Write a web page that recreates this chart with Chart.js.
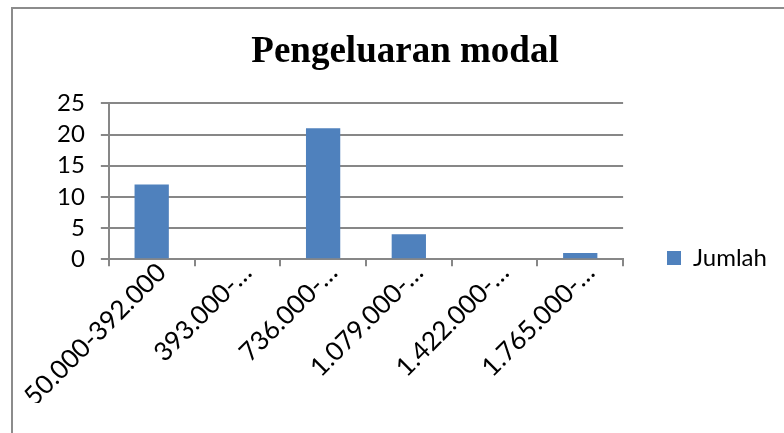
<!DOCTYPE html>
<html>
<head>
<meta charset="utf-8">
<script src="https://cdn.jsdelivr.net/npm/chart.js@4"></script>
<style>
  body { margin: 0; background: #fff; overflow: hidden; }
  #wrap { position: relative; width: 784px; height: 433px; }
  #frame { position: absolute; left: 11px; top: 7px; width: 800px; height: 500px; border: 2px solid #8c8c8c; box-sizing: border-box; pointer-events: none; }
</style>
</head>
<body>
<div id="wrap">
  <canvas id="myChart" width="784" height="433"></canvas>
  <div id="frame"></div>
</div>
<script>
const categories = ["50.000-392.000", "393.000-…", "736.000-…", "1.079.000-…", "1.422.000-…", "1.765.000-…"];
const jumlah = [12, 0, 21, 4, 0, 1];
const yTicks = [0, 5, 10, 15, 20, 25];

const gridColor = "#878787";

// legend sits lower than the plot centre in the original, title a bit to the right
const placeBlocks = {
  id: "placeBlocks",
  afterLayout(chart) {
    const l = chart.legend;
    const w = l.right - l.left;
    l.top = 258 - 17;
    l.bottom = l.top + 34;
    l.left = 657;
    l.right = l.left + w;
    const t = chart.titleBlock;
    t.left += 13;
    t.right += 13;
  }
};

new Chart("myChart", {
  type: "bar",
  data: {
    labels: categories,
    datasets: [{
      label: "Jumlah",
      data: jumlah,
      backgroundColor: "#4F81BD",
      categoryPercentage: 1,
      barPercentage: 0.4
    }]
  },
  plugins: [placeBlocks],
  options: {
    responsive: false,
    animation: false,
    layout: {
      padding: { left: 41, top: 12, right: 41, bottom: 30 }
    },
    plugins: {
      title: {
        display: true,
        text: "Pengeluaran modal",
        color: "#000",
        font: { family: "Liberation Serif", size: 37, weight: "bold" },
        padding: { top: 18, bottom: 29 }
      },
      legend: {
        position: "right",
        labels: {
          color: "#000",
          boxWidth: 14,
          boxHeight: 14,
          padding: 10,
          font: { family: "Lato", size: 24 }
        }
      },
      tooltip: { enabled: false }
    },
    scales: {
      x: {
        grid: {
          drawOnChartArea: false,
          drawTicks: true,
          tickLength: 7,
          color: gridColor,
          lineWidth: 2,
          offset: true
        },
        border: { color: gridColor, width: 2 },
        ticks: {
          color: "#000",
          font: { family: "Lato", size: 26 },
          minRotation: 45,
          maxRotation: 45,
          autoSkip: false,
          padding: -9,
          labelOffset: 10
        }
      },
      y: {
        min: 0,
        max: 25,
        afterBuildTicks: function (axis) {
          axis.ticks = yTicks.map(v => ({ value: v }));
        },
        grid: {
          color: gridColor,
          lineWidth: 2,
          tickLength: 8
        },
        border: { color: gridColor, width: 2 },
        ticks: {
          color: "#000",
          font: { family: "Lato", size: 24 },
          autoSkip: false,
          padding: 16
        }
      }
    }
  }
});
</script>
</body>
</html>
